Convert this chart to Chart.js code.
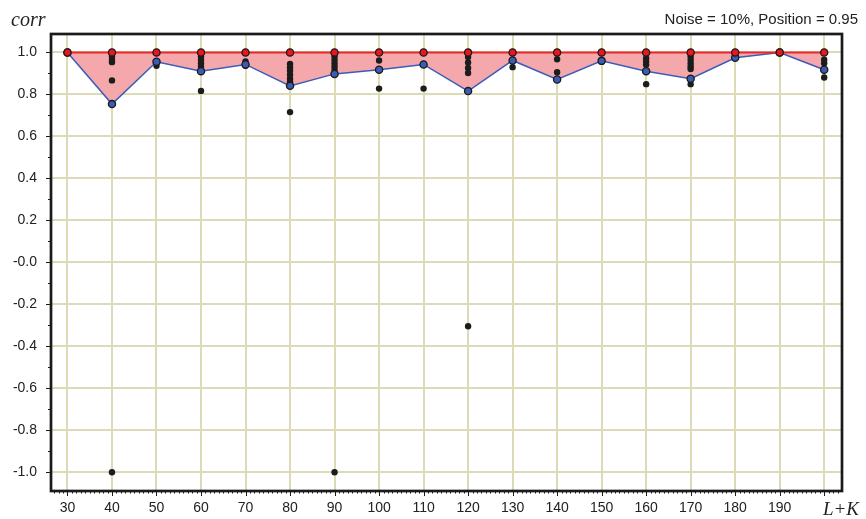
<!DOCTYPE html>
<html>
<head>
<meta charset="utf-8">
<script src="https://cdn.jsdelivr.net/npm/chart.js@4.4.0/dist/chart.umd.min.js"></script>
<style>
  html, body { margin: 0; padding: 0; background: #fff; }
  #wrap { width: 866px; height: 519px; position: relative; }
</style>
</head>
<body>
<div id="wrap"><canvas id="chart"></canvas></div>
<script>
// L+K values along the x axis
const lengths = [30, 40, 50, 60, 70, 80, 90, 100, 110, 120, 130, 140, 150, 160, 170, 180, 190, 200];
// upper envelope (red) and lower line (blue)
const upper = [1, 1, 1, 1, 1, 1, 1, 1, 1, 1, 1, 1, 1, 1, 1, 1, 1, 1];
const lower = [1.0, 0.754, 0.956, 0.911, 0.943, 0.841, 0.898, 0.918, 0.943, 0.816, 0.962, 0.871, 0.960, 0.911, 0.875, 0.975, 1.0, 0.918];
// individual correlations per L+K (black dots)
const samples = [
    [1.0],
    [1.0, 0.981, 0.965, 0.954, 0.867, -1.0],
    [1.0, 0.937],
    [1.0, 0.981, 0.965, 0.949, 0.933, 0.817],
    [1.0, 0.957, 0.937],
    [1.0, 0.945, 0.929, 0.913, 0.894, 0.875, 0.859, 0.716],
    [1.0, 0.981, 0.965, 0.949, 0.933, 0.918, -1.0],
    [1.0, 0.962, 0.828],
    [1.0, 0.828],
    [1.0, 0.978, 0.952, 0.926, 0.902, -0.304],
    [1.0, 0.930],
    [1.0, 0.968, 0.906],
    [1.0],
    [1.0, 0.973, 0.957, 0.941, 0.849],
    [1.0, 0.981, 0.965, 0.949, 0.933, 0.921, 0.849],
    [1.0, 0.989],
    [1.0],
    [1.0, 0.965, 0.949, 0.881]
];
const xTickLabels = ['30', '40', '50', '60', '70', '80', '90', '100', '110', '120', '130', '140', '150', '160', '170', '180', '190', ''];
const yTickValues = [-1.0, -0.8, -0.6, -0.4, -0.2, 0, 0.2, 0.4, 0.6, 0.8, 1.0];
const yTickLabels = ['-1.0', '-0.8', '-0.6', '-0.4', '-0.2', '-0.0', '0.2', '0.4', '0.6', '0.8', '1.0'];

const gridColor = '#dcdbb6';
const dots = [];
samples.forEach((col, i) => col.forEach(v => dots.push({ x: lengths[i], y: v })));

// frame, minor ticks and the axis titles
const decor = {
    id: 'decor',
    afterDraw(chart) {
        const { ctx, chartArea: a, scales: { x, y } } = chart;
        ctx.save();
        ctx.strokeStyle = '#1a1a1a';
        ctx.lineWidth = 1;
        ctx.beginPath();
        for (let v = 27; v <= 203; v++) {
            const px = Math.round(x.getPixelForValue(v)) + 0.5;
            const len = v % 10 === 0 && v >= 30 && v <= 200 ? 5 : 2.5;
            ctx.moveTo(px, a.bottom);
            ctx.lineTo(px, a.bottom + len);
        }
        for (let k = -10; k <= 10; k++) {
            const py = Math.round(y.getPixelForValue(k / 10)) + 0.5;
            const len = k % 2 === 0 ? 5 : 3;
            ctx.moveTo(a.left, py);
            ctx.lineTo(a.left - len, py);
        }
        ctx.stroke();

        ctx.lineWidth = 2.7;
        ctx.strokeRect(a.left, a.top, a.right - a.left, a.bottom - a.top);

        ctx.fillStyle = '#222';
        ctx.font = 'italic 20px "Liberation Serif", serif';
        ctx.textAlign = 'left';
        ctx.textBaseline = 'alphabetic';
        ctx.fillText('corr', 11, 26);
        ctx.font = 'italic 19px "Liberation Serif", serif';
        ctx.textAlign = 'right';
        ctx.fillText('L+K', 859, 515);
        ctx.font = '15px "Liberation Sans", Arial, sans-serif';
        ctx.fillText('Noise = 10%, Position = 0.95', 858, 24);
        ctx.restore();
    }
};

new Chart(document.getElementById('chart'), {
    type: 'scatter',
    data: {
        datasets: [
            {
                label: 'max',
                type: 'line',
                data: lengths.map((v, i) => ({ x: v, y: upper[i] })),
                borderColor: '#e8262b',
                borderWidth: 2,
                backgroundColor: '#f5a8ab',
                fill: '+1',
                pointRadius: 3.6,
                pointBackgroundColor: '#e8161e',
                pointBorderColor: '#1a1a1a',
                pointBorderWidth: 1.3,
                order: 0
            },
            {
                label: 'low',
                type: 'line',
                data: lengths.map((v, i) => ({ x: v, y: lower[i] })),
                borderColor: '#3b5cb8',
                borderWidth: 1.5,
                fill: false,
                pointRadius: 3.6,
                pointBackgroundColor: '#3a5cb3',
                pointBorderColor: '#1a1a1a',
                pointBorderWidth: 1.3,
                order: 1
            },
            {
                label: 'samples',
                data: dots,
                pointRadius: 3.2,
                pointBackgroundColor: '#1c1c1c',
                pointBorderColor: '#1c1c1c',
                pointBorderWidth: 0,
                order: 2
            }
        ]
    },
    options: {
        responsive: true,
        maintainAspectRatio: false,
        animation: false,
        layout: { padding: { top: 34, right: 24, left: 0, bottom: 0 } },
        plugins: {
            legend: { display: false },
            tooltip: { enabled: false },
            filler: { drawTime: 'beforeDatasetsDraw' }
        },
        scales: {
            x: {
                type: 'linear',
                min: 26.3,
                max: 204,
                afterBuildTicks: s => { s.ticks = lengths.map(v => ({ value: v })); },
                afterFit: s => { s.height = 28; },
                ticks: {
                    autoSkip: false,
                    maxRotation: 0,
                    padding: 9,
                    color: '#222',
                    font: { family: '"Liberation Sans", Arial, sans-serif', size: 14 },
                    callback: (v, i) => xTickLabels[i]
                },
                grid: { color: gridColor, lineWidth: 2, drawTicks: false },
                border: { display: false }
            },
            y: {
                min: -1.089,
                max: 1.088,
                afterBuildTicks: s => { s.ticks = yTickValues.map(v => ({ value: v })); },
                afterFit: s => { s.width = 51; },
                ticks: {
                    autoSkip: false,
                    padding: 14,
                    color: '#222',
                    font: { family: '"Liberation Sans", Arial, sans-serif', size: 14 },
                    callback: (v, i) => yTickLabels[i]
                },
                grid: { color: gridColor, lineWidth: 2, drawTicks: false },
                border: { display: false }
            }
        }
    },
    plugins: [decor]
});
</script>
</body>
</html>
